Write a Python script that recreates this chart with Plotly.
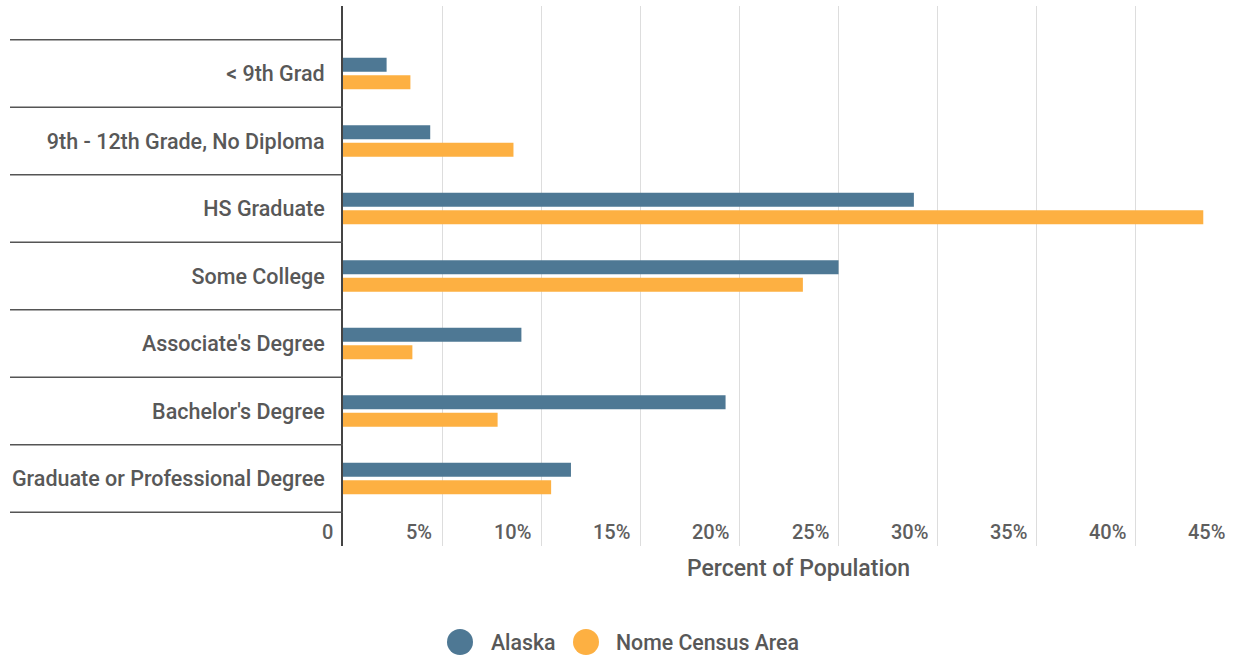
import plotly.graph_objects as go

categories = ["< 9th Grad", "9th - 12th Grade, No Diploma", "HS Graduate", "Some College",
              "Associate's Degree", "Bachelor's Degree", "Graduate or Professional Degree"]
alaska = [2.2, 4.4, 28.8, 25.0, 9.0, 19.3, 11.5]
nome = [3.4, 8.6, 43.4, 23.2, 3.5, 7.8, 10.5]
x_ticks = [0, 5, 10, 15, 20, 25, 30, 35, 40, 45]
x_tick_labels = ["0", "5%", "10%", "15%", "20%", "25%", "30%", "35%", "40%", "45%"]
series_names = ["Alaska", "Nome Census Area"]
series_colors = ["#4e7894", "#fdb042"]

W, H = 1235, 655
ML, MR, MT, MB = 343, 0, 6, 109
PW, PH = W - ML - MR, H - MT - MB
FONT = "Roboto"
TXT = "#585858"


def px_x(px):
    return (px - ML) / PW


def px_y(py):
    return (H - MB - py) / PH


fig = go.Figure()
for name, vals, col in zip(series_names, [alaska, nome], series_colors):
    fig.add_trace(go.Bar(
        y=categories, x=vals, name=name, orientation="h",
        marker=dict(color=col, line=dict(width=0)),
        showlegend=False,
        hovertemplate="%{y}: %{x}%<extra>" + name + "</extra>"
    ))

# row separators in the label area
shapes = []
for i in range(len(categories) + 1):
    shapes.append(dict(type="line", xref="paper", yref="y",
                       x0=px_x(10), x1=0, y0=i - 0.5, y1=i - 0.5,
                       line=dict(color="#555555", width=1.5)))

# custom legend with large circles
legend_pos = [(460, 489), (586, 614)]
annotations = []
for (cx, tx), name, col in zip(legend_pos, series_names, series_colors):
    shapes.append(dict(type="circle", xref="paper", yref="paper",
                       xsizemode="pixel", ysizemode="pixel",
                       xanchor=px_x(cx), yanchor=px_y(642),
                       x0=-13, x1=13, y0=-13, y1=13,
                       fillcolor=col, line=dict(width=0)))
    annotations.append(dict(text=name, xref="paper", yref="paper",
                            x=px_x(tx), y=px_y(642), xanchor="left", yanchor="middle",
                            showarrow=False,
                            font=dict(family=FONT, size=21.3, color=TXT, weight=500)))

# x tick labels sit left of their gridline, at the bottom inside the plot
for v, lab in zip(x_ticks, x_tick_labels):
    annotations.append(dict(text=lab, xref="x", yref="paper", x=v, y=0,
                            xanchor="right", yanchor="middle", xshift=-8, yshift=14,
                            showarrow=False,
                            font=dict(family=FONT, size=20, color="#5e5e5e", weight=500)))

annotations.append(dict(text="Percent of Population", xref="paper", yref="paper",
                        x=px_x(798), y=0, yshift=-22, xanchor="center", yanchor="middle",
                        showarrow=False,
                        font=dict(family=FONT, size=23, color=TXT, weight=500)))

fig.update_layout(
    width=W, height=H,
    margin=dict(l=ML, r=MR, t=MT, b=MB, pad=0),
    paper_bgcolor="white", plot_bgcolor="white",
    font=dict(family=FONT, size=18, color=TXT),
    barmode="group", bargap=0.48, bargroupgap=0.2,
    showlegend=False,
    shapes=shapes,
    annotations=annotations,
    xaxis=dict(range=[0, 45], tickvals=x_ticks, showticklabels=False,
               showgrid=True, gridcolor="#dddddd", gridwidth=1,
               zeroline=False, showline=False, fixedrange=True),
    yaxis=dict(type="category", categoryorder="array", categoryarray=categories,
               range=[7, -1], showgrid=False, zeroline=False,
               showline=True, linecolor="#444444", linewidth=2,
               ticks="", ticklabelstandoff=12,
               tickfont=dict(family=FONT, size=21.5, color=TXT, weight=500), fixedrange=True),
)

fig.write_html("out.html", config={"displayModeBar": False},
               post_script="document.body.style.margin='0';")
